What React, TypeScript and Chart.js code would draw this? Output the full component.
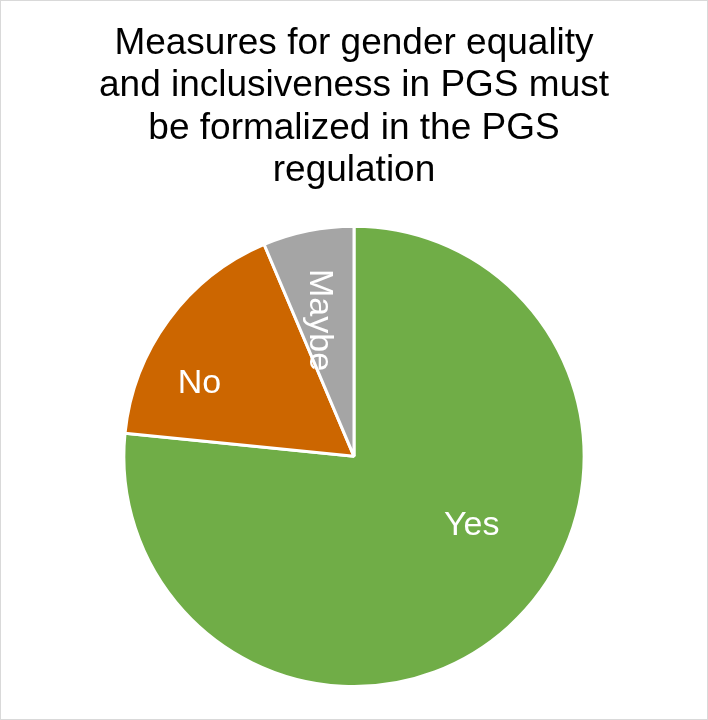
import React, { useEffect, useRef } from "react";
import { Chart, registerables } from "chart.js";

Chart.register(...registerables);

const categories = ["Yes", "No", "Maybe"];
const responses = [36, 8, 3];
const sliceColors = ["#70AD47", "#CC6600", "#A5A5A5"];
const titleLines = [
  "Measures for gender equality",
  "and inclusiveness in PGS must",
  "be formalized in the PGS",
  "regulation",
];

// label placement relative to each slice: angle shift (deg) from slice middle, radius fraction, rotation (deg)
const labelPlacement = [
  { shift: -18, frac: 0.59, rot: 0 },
  { shift: -10.7, frac: 0.745, rot: 0 },
  { shift: -2.7, frac: 0.62, rot: 90 },
];

const FONT = "'Liberation Sans', Arial, Helvetica, sans-serif";

const sliceLabels = {
  id: "sliceLabels",
  afterDatasetsDraw(chart: any) {
    const meta = chart.getDatasetMeta(0);
    const ctx = chart.ctx;
    ctx.save();
    ctx.fillStyle = "#FFFFFF";
    ctx.font = `34px ${FONT}`;
    ctx.textAlign = "center";
    ctx.textBaseline = "middle";
    meta.data.forEach((arc: any, i: number) => {
      const p = arc.getProps(["x", "y", "startAngle", "endAngle", "outerRadius"], true);
      const pl = labelPlacement[i];
      const a = (p.startAngle + p.endAngle) / 2 + (pl.shift * Math.PI) / 180;
      const r = p.outerRadius * pl.frac;
      const x = p.x + Math.cos(a) * r;
      const y = p.y + Math.sin(a) * r + 2;
      ctx.save();
      ctx.translate(x, y);
      ctx.rotate((pl.rot * Math.PI) / 180);
      ctx.fillText(chart.data.labels[i], 0, 0);
      ctx.restore();
    });
    ctx.restore();
  },
};

export default function App() {
  const ref = useRef<HTMLCanvasElement | null>(null);
  useEffect(() => {
    document.body.style.margin = "0";
    if (!ref.current) return;
    const chart = new Chart(ref.current, {
      type: "pie",
      data: {
        labels: categories,
        datasets: [
          {
            data: responses,
            backgroundColor: sliceColors,
            borderColor: "#FFFFFF",
            borderWidth: 3,
          },
        ],
      },
      options: {
        responsive: false,
        animation: false,
        layout: { padding: { top: 0, bottom: 31, left: 0, right: 0 } },
        plugins: {
          legend: { display: false },
          tooltip: { enabled: false },
          title: {
            display: true,
            text: titleLines,
            color: "#000000",
            font: { family: FONT, size: 37, weight: "normal", lineHeight: 1.14 },
            padding: { top: 22, bottom: 33 },
          },
        },
      },
      plugins: [sliceLabels],
    });
    return () => chart.destroy();
  }, []);
  return (
    <div
      style={{
        width: 708,
        height: 720,
        boxSizing: "border-box",
        border: "1px solid #D9D9D9",
        background: "#FFFFFF",
      }}
    >
      <canvas ref={ref} width={706} height={718} style={{ display: "block" }} />
    </div>
  );
}
